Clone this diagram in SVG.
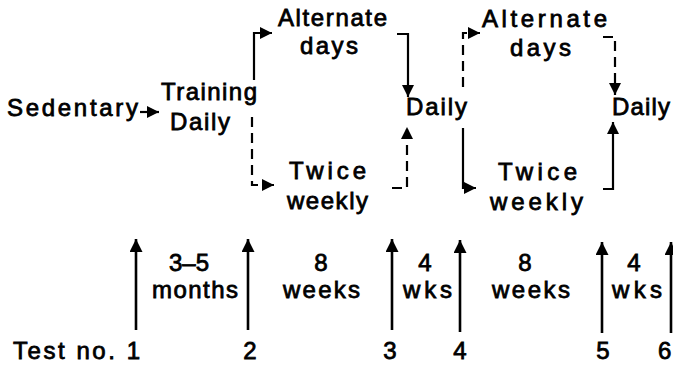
<svg xmlns="http://www.w3.org/2000/svg" width="673" height="369" viewBox="0 0 673 369">
<defs>
<style>
text{font-family:"Liberation Sans",Arial,sans-serif;font-size:24px;fill:#000;stroke:#000;stroke-width:0.8}
.c{text-anchor:middle}
.ln{fill:none;stroke:#000;stroke-width:2.2}
.d{stroke-dasharray:10 6}
.big{stroke-width:2.6}
</style>
<marker id="ah" markerUnits="userSpaceOnUse" markerWidth="12" markerHeight="12" refX="10" refY="5" orient="auto" viewBox="0 0 10 10">
<path d="M0,0 L10,5 L0,10 z" fill="#000"/>
</marker>
<marker id="ahb" markerUnits="userSpaceOnUse" markerWidth="13" markerHeight="13" refX="10" refY="5" orient="auto" viewBox="0 0 10 10">
<path d="M0,0 L10,5 L0,10 z" fill="#000"/>
</marker>
</defs>
<rect width="673" height="369" fill="#fff"/>
<g id="sedentary"><text x="7" y="116" textLength="131" lengthAdjust="spacing">Sedentary</text></g>
<g id="training"><text x="161" y="100" textLength="96" lengthAdjust="spacing">Training</text><text x="170" y="130" textLength="60" lengthAdjust="spacing">Daily</text></g>
<g id="alt1"><text x="278" y="26" textLength="109" lengthAdjust="spacing">Alternate</text><text x="300" y="54" textLength="58" lengthAdjust="spacing">days</text></g>
<g id="twice1"><text x="289" y="179" textLength="77" lengthAdjust="spacing">Twice</text><text x="287" y="209" textLength="81" lengthAdjust="spacing">weekly</text></g>
<g id="daily1"><text x="406" y="115" textLength="61" lengthAdjust="spacing">Daily</text></g>
<g id="alt2"><text x="482" y="27" textLength="125" lengthAdjust="spacing">Alternate</text><text x="510" y="56" textLength="61" lengthAdjust="spacing">days</text></g>
<g id="twice2"><text x="498" y="180" textLength="79" lengthAdjust="spacing">Twice</text><text x="490" y="210" textLength="93" lengthAdjust="spacing">weekly</text></g>
<g id="daily2"><text x="612" y="115" textLength="58" lengthAdjust="spacing">Daily</text></g>
<g id="periods">
<text class="c" x="189" y="271">3–5</text><text x="152" y="298" textLength="86" lengthAdjust="spacing">months</text>
<text class="c" x="321" y="271">8</text><text x="283" y="298" textLength="77" lengthAdjust="spacing">weeks</text>
<text class="c" x="425" y="271">4</text><text x="403" y="298" textLength="49" lengthAdjust="spacing">wks</text>
<text class="c" x="525" y="271">8</text><text x="492" y="298" textLength="78" lengthAdjust="spacing">weeks</text>
<text class="c" x="634" y="271">4</text><text x="612" y="298" textLength="50" lengthAdjust="spacing">wks</text>
</g>
<g id="tests">
<text x="13" y="359" textLength="127" lengthAdjust="spacing">Test no. 1</text>
<text class="c" x="250" y="359">2</text>
<text class="c" x="390" y="359">3</text>
<text class="c" x="460" y="359">4</text>
<text class="c" x="603" y="359">5</text>
<text x="658" y="359">6</text>
</g>
<g id="connectors">
<path class="ln" d="M140,112 H159" marker-end="url(#ah)"/>
<path class="ln" d="M254,80 V33 H272" marker-end="url(#ah)"/>
<path class="ln d" d="M252,117 V185 H274" marker-end="url(#ah)"/>
<path class="ln" d="M397,34 H408 V97" marker-end="url(#ah)"/>
<path class="ln d" d="M392,188 H407 V127" marker-end="url(#ah)"/>
<path class="ln d" d="M463,87 V33 H480" marker-end="url(#ah)"/>
<path class="ln" d="M463,128 V188 H476" marker-end="url(#ah)"/>
<path class="ln d" d="M603,37 H615 V95" marker-end="url(#ah)"/>
<path class="ln" d="M603,189 H613 V122" marker-end="url(#ah)"/>
<path class="ln big" d="M136,330 V239" marker-end="url(#ahb)"/>
<path class="ln big" d="M248,330 V239" marker-end="url(#ahb)"/>
<path class="ln big" d="M392,330 V239" marker-end="url(#ahb)"/>
<path class="ln big" d="M460,332 V240" marker-end="url(#ahb)"/>
<path class="ln big" d="M602,333 V242" marker-end="url(#ahb)"/>
<path class="ln big" d="M671,333 V242" marker-end="url(#ahb)"/>
</g>
</svg>
